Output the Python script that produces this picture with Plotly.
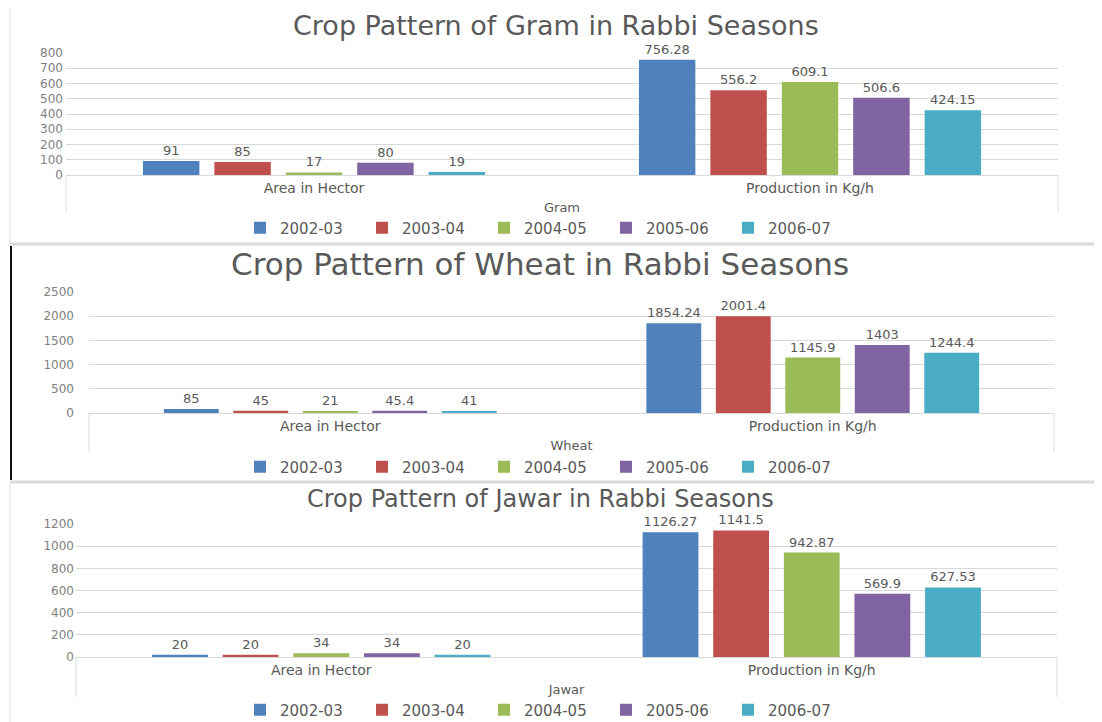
import plotly.graph_objects as go

years = ["2002-03", "2003-04", "2004-05", "2005-06", "2006-07"]
categories = ["Area in Hector", "Production in Kg/h"]
colors = ["#4F81BD", "#C0504D", "#9BBB59", "#8064A2", "#4BACC6"]

gram_area = [91, 85, 17, 80, 19]
gram_prod = [756.28, 556.2, 609.1, 506.6, 424.15]
wheat_area = [85, 45, 21, 45.4, 41]
wheat_prod = [1854.24, 2001.4, 1145.9, 1403, 1244.4]
jawar_area = [20, 20, 34, 34, 20]
jawar_prod = [1126.27, 1141.5, 942.87, 569.9, 627.53]

crops = ["Gram", "Wheat", "Jawar"]
titles = ["Crop Pattern of Gram in Rabbi Seasons",
          "Crop Pattern of Wheat in Rabbi Seasons",
          "Crop Pattern of Jawar in Rabbi Seasons"]
y_max = [800, 2500, 1200]
y_dtick = [100, 500, 200]

# the page body has an 8px margin, so the figure is drawn from (8, 8)
OFF = 8
W, H = 1102 - OFF, 722 - OFF
def py(v):
    return 1 - (v - OFF) / H
def px(v):
    return (v - OFF) / W

# layout geometry (reference-image pixels)
x_dom = [(66, 1058), (89, 1054), (76, 1057)]
y_dom = [(175, 53), (413, 292), (657, 524)]
title_y = [25, 264, 499]
title_x = [556, 540, 540]
title_size = [27, 31, 24]
legend_y = [228, 467, 710]
div_len = [-0.3, -0.32, -0.3]
tick_standoff = [2, 14, 1]

TEXT = "#595959"
GRID = "#D9D9D9"
FONT = "DejaVu Sans"

data_sets = [(gram_area, gram_prod), (wheat_area, wheat_prod), (jawar_area, jawar_prod)]

fig = go.Figure()
for i, (area, prod) in enumerate(data_sets):
    n = i + 1
    sfx = "" if n == 1 else str(n)
    for j, yr in enumerate(years):
        vals = [area[j], prod[j]]
        fig.add_trace(go.Bar(
            x=categories, y=vals, name=yr,
            marker=dict(color=colors[j], line=dict(width=0)),
            text=[str(v) for v in vals], textposition="outside",
            textfont=dict(family=FONT, size=13, color=TEXT),
            constraintext="none", cliponaxis=False,
            xaxis="x" + sfx, yaxis="y" + sfx,
            legend="legend" + sfx,
        ))
    fig.layout["xaxis" + sfx] = dict(
        domain=[px(x_dom[i][0]), px(x_dom[i][1])], anchor="y" + sfx,
        showgrid=False, showline=True, linecolor=GRID, linewidth=1,
        ticks="", tickfont=dict(family=FONT, size=14, color=TEXT),
        title=dict(text=crops[i], font=dict(family=FONT, size=13, color=TEXT), standoff=8),
        fixedrange=True,
    )
    fig.layout["yaxis" + sfx] = dict(
        domain=[py(y_dom[i][0]), py(y_dom[i][1])], anchor="x" + sfx,
        range=[0, y_max[i]], dtick=y_dtick[i], showgrid=True, gridcolor=GRID,
        zeroline=False, showline=False, ticks="", ticklabelstandoff=tick_standoff[i],
        tickfont=dict(family=FONT, size=12, color="#7F7F7F"),
        fixedrange=True,
    )
    fig.layout["legend" + sfx] = dict(
        orientation="h", x=px(545), xanchor="center", y=py(legend_y[i]), yanchor="middle",
        font=dict(family=FONT, size=15, color=TEXT), bgcolor="rgba(0,0,0,0)",
        traceorder="normal", entrywidth=77,
    )
    fig.add_annotation(
        text=titles[i], x=px(title_x[i]), y=py(title_y[i]), xref="paper", yref="paper",
        xanchor="center", yanchor="middle", showarrow=False, borderpad=0,
        font=dict(family=FONT, size=title_size[i], color="#595959"),
    )
    # multi-level category dividers
    for xd in (0, 1):
        fig.add_shape(type="line", xref="x" + sfx + " domain", yref="y" + sfx + " domain",
                      x0=xd, x1=xd, y0=0, y1=div_len[i],
                      line=dict(color=GRID, width=1))

# panel frames
fig.add_shape(type="rect", xref="paper", yref="paper", x0=px(10), x1=px(1100), y0=py(7), y1=py(244),
              line=dict(color="#DDDDDD", width=1))
for yy in (244, 482):
    fig.add_shape(type="line", xref="paper", yref="paper", x0=px(10), x1=px(1100), y0=py(yy), y1=py(yy),
                  line=dict(color="#DADADA", width=3))
fig.add_shape(type="line", xref="paper", yref="paper", x0=px(11), x1=px(11), y0=py(246), y1=py(480),
              line=dict(color="#111111", width=2))
fig.add_shape(type="line", xref="paper", yref="paper", x0=px(10), x1=px(10), y0=py(484), y1=py(722),
              line=dict(color="#DDDDDD", width=1))

fig.update_layout(
    width=W, height=H, margin=dict(l=0, r=0, t=0, b=0, autoexpand=False),
    paper_bgcolor="white", plot_bgcolor="white",
    barmode="group", bargap=0.28, bargroupgap=0.21,
    font=dict(family=FONT, color=TEXT),
    showlegend=True,
)

fig.write_html("out.html")
